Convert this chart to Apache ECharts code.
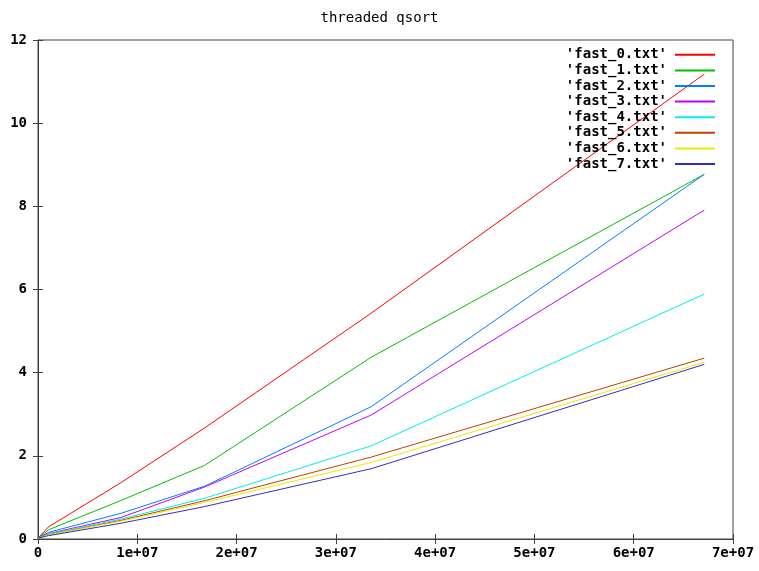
<!DOCTYPE html>
<html>
<head>
<meta charset="utf-8">
<script src="https://cdn.jsdelivr.net/npm/echarts@6/dist/echarts.min.js"></script>
<style>html,body{margin:0;padding:0;background:#fff}#c{width:759px;height:571px}</style>
</head>
<body>
<div id="c"></div>
<script>
const sizes = [0, 1048576, 8388608, 16777216, 33554432, 67108864];
const seriesNames = ["'fast_0.txt'", "'fast_1.txt'", "'fast_2.txt'", "'fast_3.txt'", "'fast_4.txt'", "'fast_5.txt'", "'fast_6.txt'", "'fast_7.txt'"];
const fast0 = [0.02, 0.29, 1.36, 2.67, 5.43, 11.18];
const fast1 = [0.02, 0.22, 0.93, 1.77, 4.37, 8.77];
const fast2 = [0.02, 0.16, 0.62, 1.27, 3.18, 8.77];
const fast3 = [0.02, 0.13, 0.52, 1.25, 2.98, 7.91];
const fast4 = [0.02, 0.12, 0.48, 0.98, 2.24, 5.89];
const fast5 = [0.02, 0.10, 0.45, 0.92, 1.97, 4.35];
const fast6 = [0.02, 0.10, 0.43, 0.88, 1.84, 4.25];
const fast7 = [0.02, 0.08, 0.38, 0.78, 1.69, 4.20];
const allValues = [fast0, fast1, fast2, fast3, fast4, fast5, fast6, fast7];
const colors = ['#ff0000', '#00c000', '#0080ff', '#c000ff', '#00eeee', '#c04000', '#e8e800', '#3030c0'];
const xTickLabels = ['0', '1e+07', '2e+07', '3e+07', '4e+07', '5e+07', '6e+07', '7e+07'];
const yTickLabels = ['0', '2', '4', '6', '8', '10', '12'];

const font = 'DejaVu Sans Mono';
const chart = echarts.init(document.getElementById('c'));
const series = seriesNames.map((name, i) => ({
  name: name,
  type: 'line',
  symbol: 'none',
  data: sizes.map((x, j) => [x, allValues[i][j]]),
  lineStyle: { width: 1, color: colors[i] },
  itemStyle: { color: colors[i] },
  animation: false,
  xAxisIndex: 0, yAxisIndex: 0
}));
chart.setOption({
  animation: false,
  backgroundColor: '#fff',
  title: {
    text: 'threaded qsort', left: 'center', top: 6,
    textStyle: { fontFamily: font, fontSize: 14, fontWeight: 'normal', color: '#000' }
  },
  legend: {
    orient: 'vertical', right: 39, top: 42, align: 'right',
    itemWidth: 40, itemHeight: 2, itemGap: 0, icon: 'rect',
    textStyle: { fontFamily: font, fontSize: 14, fontWeight: 'bold', color: '#000', lineHeight: 15.6, padding: [0, 3, 0, 0] },
    data: seriesNames
  },
  grid: { left: 38, right: 26, top: 40, bottom: 32, show: true, borderColor: '#404040', borderWidth: 1, containLabel: false },
  xAxis: [{
    type: 'value', min: 0, max: 70000000, interval: 10000000,
    axisLine: { show: true, lineStyle: { color: '#404040' } },
    axisTick: { show: true, inside: true, length: 5, lineStyle: { color: '#404040' } },
    splitLine: { show: false },
    axisLabel: { fontFamily: font, fontSize: 14, fontWeight: 'bold', color: '#000', margin: 7,
      formatter: v => xTickLabels[Math.round(v / 10000000)] }
  }, {
    type: 'value', position: 'top', min: 0, max: 70000000, interval: 10000000,
    axisLine: { show: false }, axisLabel: { show: false }, splitLine: { show: false },
    axisTick: { show: true, inside: true, length: 5, lineStyle: { color: '#404040' } }
  }],
  yAxis: [{
    type: 'value', min: 0, max: 12, interval: 2,
    axisLine: { show: true, lineStyle: { color: '#404040' } },
    axisTick: { show: true, inside: true, length: 5, lineStyle: { color: '#404040' } },
    splitLine: { show: false },
    axisLabel: { fontFamily: font, fontSize: 14, fontWeight: 'bold', color: '#000', margin: 11,
      formatter: v => yTickLabels[Math.round(v / 2)] }
  }, {
    type: 'value', position: 'right', min: 0, max: 12, interval: 2,
    axisLine: { show: false }, axisLabel: { show: false }, splitLine: { show: false },
    axisTick: { show: true, inside: true, length: 5, lineStyle: { color: '#404040' } }
  }],
  series: series
});
</script>
</body>
</html>
